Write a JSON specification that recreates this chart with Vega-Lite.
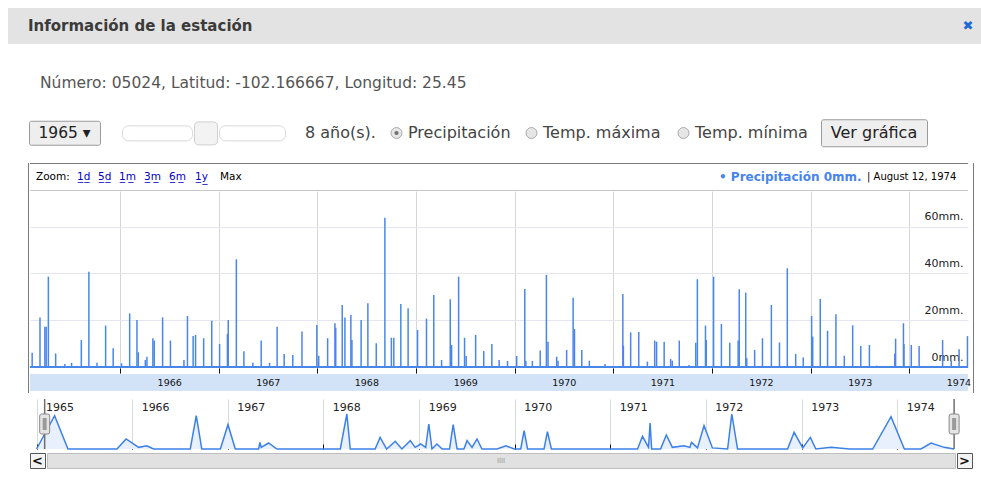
{
 "$schema": "https://vega.github.io/schema/vega-lite/v6.json",
 "background": "white",
 "padding": {"left": 8, "top": 8, "right": 0, "bottom": 0},
 "config": {
   "font": "DejaVu Sans",
   "view": {"stroke": null},
   "concat": {"spacing": 0},
   "axis": {"labelFont": "DejaVu Sans"}
 },
 "datasets": {
  "rain": [
   {"date":"1965/02/09","mm":6.1},{"date":"1965/03/10","mm":21.2},{"date":"1965/03/28","mm":17.2},{"date":"1965/04/02","mm":17.2},{"date":"1965/04/10","mm":38.6},{"date":"1965/05/07","mm":5.8},{"date":"1965/06/10","mm":1.3},{"date":"1965/07/05","mm":1.8},{"date":"1965/08/10","mm":11.5},{"date":"1965/09/07","mm":40.7},{"date":"1965/10/07","mm":1.8},{"date":"1965/11/08","mm":17.7},{"date":"1965/12/06","mm":8.0},
   {"date":"1966/01/06","mm":1.6},{"date":"1966/02/05","mm":22.9},{"date":"1966/03/04","mm":20.1},{"date":"1966/03/09","mm":6.3},{"date":"1966/04/04","mm":3.0},{"date":"1966/04/10","mm":4.4},{"date":"1966/05/02","mm":12.3},{"date":"1966/05/07","mm":11.3},{"date":"1966/06/07","mm":21.2},{"date":"1966/07/06","mm":11.3},{"date":"1966/08/25","mm":3.0},{"date":"1966/09/07","mm":21.8},{"date":"1966/09/28","mm":13.2},{"date":"1966/10/07","mm":13.7},{"date":"1966/11/06","mm":12.3},{"date":"1966/12/06","mm":19.8},
   {"date":"1967/01/04","mm":9.8},{"date":"1967/02/02","mm":14.1},{"date":"1967/02/05","mm":20.1},{"date":"1967/03/07","mm":46.0},{"date":"1967/04/04","mm":6.7},{"date":"1967/05/07","mm":1.8},{"date":"1967/06/07","mm":11.3},{"date":"1967/07/08","mm":1.8},{"date":"1967/08/05","mm":17.2},{"date":"1967/08/31","mm":5.6},{"date":"1967/10/02","mm":5.1},{"date":"1967/11/05","mm":15.2},{"date":"1967/12/30","mm":18.0},
   {"date":"1968/01/06","mm":4.8},{"date":"1968/02/08","mm":12.3},{"date":"1968/03/06","mm":18.7},{"date":"1968/03/09","mm":16.8},{"date":"1968/04/02","mm":26.5},{"date":"1968/04/12","mm":21.1},{"date":"1968/05/04","mm":22.2},{"date":"1968/05/08","mm":11.5},{"date":"1968/06/11","mm":20.1},{"date":"1968/07/06","mm":27.2},{"date":"1968/08/06","mm":10.1},{"date":"1968/09/07","mm":63.8},{"date":"1968/10/01","mm":12.5},{"date":"1968/10/10","mm":12.5},{"date":"1968/11/05","mm":26.9},{"date":"1968/12/02","mm":25.1},
   {"date":"1969/01/06","mm":15.8},{"date":"1969/02/08","mm":20.7},{"date":"1969/03/07","mm":30.8},{"date":"1969/04/05","mm":3.0},{"date":"1969/05/07","mm":28.9},{"date":"1969/05/12","mm":9.4},{"date":"1969/06/07","mm":38.6},{"date":"1969/06/29","mm":12.5},{"date":"1969/07/05","mm":4.7},{"date":"1969/08/09","mm":13.7},{"date":"1969/09/08","mm":6.8},{"date":"1969/10/08","mm":9.8},{"date":"1969/11/04","mm":3.0},{"date":"1969/12/05","mm":2.6},
   {"date":"1970/01/08","mm":4.7},{"date":"1970/02/07","mm":33.3},{"date":"1970/02/11","mm":2.7},{"date":"1970/03/07","mm":2.6},{"date":"1970/04/05","mm":7.0},{"date":"1970/04/28","mm":39.3},{"date":"1970/05/04","mm":10.8},{"date":"1970/06/05","mm":4.4},{"date":"1970/06/10","mm":2.7},{"date":"1970/07/12","mm":7.3},{"date":"1970/08/05","mm":29.6},{"date":"1970/08/10","mm":16.2},{"date":"1970/09/06","mm":7.3},{"date":"1970/10/04","mm":2.7},{"date":"1970/12/01","mm":1.3},
   {"date":"1971/02/05","mm":31.2},{"date":"1971/02/07","mm":9.1},{"date":"1971/03/06","mm":14.8},{"date":"1971/04/05","mm":15.0},{"date":"1971/05/07","mm":2.3},{"date":"1971/06/03","mm":11.3},{"date":"1971/06/10","mm":10.8},{"date":"1971/07/08","mm":10.8},{"date":"1971/08/01","mm":3.4},{"date":"1971/08/07","mm":2.7},{"date":"1971/09/02","mm":11.3},{"date":"1971/10/08","mm":0.9},{"date":"1971/11/02","mm":10.4},{"date":"1971/11/08","mm":37.5},{"date":"1971/12/08","mm":17.7},{"date":"1971/12/11","mm":11.5},
   {"date":"1972/01/07","mm":38.6},{"date":"1972/02/05","mm":18.4},{"date":"1972/03/07","mm":10.4},{"date":"1972/04/07","mm":11.3},{"date":"1972/04/11","mm":33.2},{"date":"1972/05/05","mm":31.8},{"date":"1972/05/09","mm":3.7},{"date":"1972/06/07","mm":7.3},{"date":"1972/07/06","mm":12.3},{"date":"1972/08/08","mm":26.5},{"date":"1972/09/07","mm":10.5},{"date":"1972/10/06","mm":42.2},{"date":"1972/11/06","mm":5.6},{"date":"1972/12/04","mm":4.1},
   {"date":"1973/01/04","mm":21.8},{"date":"1973/01/08","mm":13.0},{"date":"1973/02/05","mm":29.1},{"date":"1973/03/04","mm":15.5},{"date":"1973/04/04","mm":22.5},{"date":"1973/05/05","mm":4.8},{"date":"1973/06/05","mm":17.8},{"date":"1973/07/05","mm":9.0},{"date":"1973/08/06","mm":9.4},{"date":"1973/09/02","mm":0.6},{"date":"1973/11/08","mm":5.8},{"date":"1973/11/11","mm":12.1},{"date":"1973/12/10","mm":18.7},{"date":"1973/12/12","mm":9.8},
   {"date":"1974/01/08","mm":9.4},{"date":"1974/02/06","mm":9.0},{"date":"1974/05/04","mm":11.5},{"date":"1974/06/05","mm":2.7},{"date":"1974/07/04","mm":7.6},{"date":"1974/08/04","mm":13.2}
  ],
  "overview": [
   {"date":"1965/01/01","v":0},{"date":"1965/03/11","v":60.7},{"date":"1965/05/01","v":0},{"date":"1965/11/04","v":0},{"date":"1965/12/09","v":18.2},{"date":"1966/01/26","v":3},{"date":"1966/02/26","v":6},{"date":"1966/03/24","v":0},{"date":"1966/08/11","v":0},{"date":"1966/09/03","v":60.7},{"date":"1966/09/24","v":0},{"date":"1966/12/04","v":0},
   {"date":"1967/01/02","v":44.3},{"date":"1967/01/30","v":0},{"date":"1967/04/29","v":0},{"date":"1967/05/04","v":12.1},{"date":"1967/05/09","v":3},{"date":"1967/06/06","v":10.9},{"date":"1967/07/08","v":0},{"date":"1968/03/06","v":0},{"date":"1968/03/31","v":63.7},{"date":"1968/04/13","v":0},{"date":"1968/07/17","v":0},{"date":"1968/08/05","v":21.2},{"date":"1968/08/30","v":0},{"date":"1968/10/02","v":14},{"date":"1968/10/27","v":0},{"date":"1968/11/28","v":15.2},{"date":"1968/12/17","v":3},
   {"date":"1969/01/07","v":9.1},{"date":"1969/01/26","v":3},{"date":"1969/02/07","v":45.5},{"date":"1969/02/19","v":0},{"date":"1969/03/10","v":9.1},{"date":"1969/03/30","v":0},{"date":"1969/04/27","v":0},{"date":"1969/05/11","v":44.3},{"date":"1969/05/26","v":0},{"date":"1969/06/21","v":0},{"date":"1969/07/03","v":15.2},{"date":"1969/07/22","v":3},{"date":"1969/08/10","v":18.2},{"date":"1969/08/29","v":0},{"date":"1969/10/26","v":0},{"date":"1969/11/28","v":6},{"date":"1969/12/30","v":0},
   {"date":"1970/01/24","v":0},{"date":"1970/02/06","v":33.4},{"date":"1970/02/19","v":0},{"date":"1970/04/23","v":0},{"date":"1970/05/06","v":31.6},{"date":"1970/05/21","v":0},{"date":"1971/04/15","v":0},{"date":"1971/05/04","v":23.1},{"date":"1971/05/27","v":3},{"date":"1971/06/02","v":47.3},{"date":"1971/06/08","v":0},{"date":"1971/07/12","v":0},{"date":"1971/08/03","v":25.5},{"date":"1971/08/26","v":3},{"date":"1971/10/10","v":6},{"date":"1971/11/01","v":3},{"date":"1971/11/07","v":12.1},{"date":"1971/11/30","v":2},{"date":"1971/12/25","v":42.5},
   {"date":"1972/01/26","v":2},{"date":"1972/03/24","v":0},{"date":"1972/04/09","v":63.7},{"date":"1972/05/01","v":0},{"date":"1972/11/08","v":0},{"date":"1972/12/03","v":30.4},{"date":"1973/01/05","v":2},{"date":"1973/02/03","v":21.2},{"date":"1973/02/24","v":0},{"date":"1973/04/23","v":3},{"date":"1973/07/02","v":0},{"date":"1973/09/29","v":0},{"date":"1973/12/08","v":58.9},{"date":"1974/01/28","v":0},{"date":"1974/04/01","v":0},{"date":"1974/05/10","v":10.9},{"date":"1974/06/29","v":3},{"date":"1974/08/06","v":0}
  ]
 },
 "spacing": 0,
 "vconcat": [
  {"hconcat": [
    {"width": 20, "height": 36, "view": {"fill": "#e3e3e3"}, "data": {"values": []}, "mark": "text", "encoding": {"text": {"value": ""}}},
    {"width": 927, "height": 36, "view": {"fill": "#e3e3e3"}, "data": {"values": [{"t": "Información de la estación"}]}, "mark": {"type": "text", "align": "left", "baseline": "middle", "fontSize": 15, "fontWeight": "bold", "color": "#3b3b3b"}, "encoding": {"text": {"field": "t"}, "x": {"datum": 0, "type": "quantitative", "scale": {"domain": [0, 1]}, "axis": null}}},
    {"width": 26, "height": 36, "view": {"fill": "#e3e3e3"}, "data": {"values": [{"t": "✖"}]}, "mark": {"type": "text", "align": "center", "baseline": "middle", "fontSize": 13, "color": "#1b6ad8"}, "encoding": {"text": {"field": "t"}}}
   ], "spacing": 0},
  {"vconcat": [
    {"width": 10, "height": 4, "data": {"values": []}, "mark": "text", "encoding": {"text": {"value": ""}}},
    {"hconcat": [
      {"width": 32, "height": 70, "data": {"values": []}, "mark": "text", "encoding": {"text": {"value": ""}}},
      {"width": 900, "height": 70, "data": {"values": [{"t": "Número: 05024, Latitud: -102.166667, Longitud: 25.45"}]}, "mark": {"type": "text", "align": "left", "baseline": "middle", "fontSize": 15.5, "color": "#555555"}, "encoding": {"text": {"field": "t"}, "x": {"datum": 0, "type": "quantitative", "scale": {"domain": [0, 1]}, "axis": null}}}
     ], "spacing": 0}
   ], "spacing": 0},
  {"hconcat": [
    {"width": 20, "height": 28, "data": {"values": []}, "mark": "text", "encoding": {"text": {"value": ""}}},
    {"width": 71, "height": 24, "view": {"fill": "#eeeeee", "stroke": "#9a9a9a", "cornerRadius": 2}, "data": {"values": [{"t": "1965 ▾"}]}, "mark": {"type": "text", "align": "center", "baseline": "middle", "fontSize": 15.5, "color": "#222222"}, "encoding": {"text": {"field": "t"}}},
    {"width": 20, "height": 28, "data": {"values": []}, "mark": "text", "encoding": {"text": {"value": ""}}},
    {"hconcat": [
      {"width": 70, "height": 15, "view": {"fill": "#ffffff", "stroke": "#d8d8d8", "cornerRadius": 6}, "data": {"values": []}, "mark": "text", "encoding": {"text": {"value": ""}}},
      {"width": 23, "height": 23, "view": {"fill": "#f3f3f3", "stroke": "#cfcfcf", "cornerRadius": 4}, "data": {"values": []}, "mark": "text", "encoding": {"text": {"value": ""}}},
      {"width": 66, "height": 15, "view": {"fill": "#ffffff", "stroke": "#d8d8d8", "cornerRadius": 6}, "data": {"values": []}, "mark": "text", "encoding": {"text": {"value": ""}}}
     ], "spacing": 0, "center": true},
    {"width": 19, "height": 28, "data": {"values": []}, "mark": "text", "encoding": {"text": {"value": ""}}},
    {"width": 84, "height": 28, "data": {"values": [{"t": "8 año(s)."}]}, "mark": {"type": "text", "align": "left", "baseline": "middle", "fontSize": 16, "color": "#444444"}, "encoding": {"text": {"field": "t"}, "x": {"datum": 0, "type": "quantitative", "scale": {"domain": [0, 1]}, "axis": null}}},
    {"width": 15, "height": 28, "data": {"values": [{}]}, "layer": [
      {"mark": {"type": "point", "filled": true, "fill": "#e6e6e6", "stroke": "#ababab", "strokeWidth": 1, "size": 120, "opacity": 1}, "encoding": {}},
      {"mark": {"type": "point", "filled": true, "fill": "#707070", "size": 18, "opacity": 1}, "encoding": {}}
    ]},
    {"width": 4, "height": 28, "data": {"values": []}, "mark": "text", "encoding": {"text": {"value": ""}}},
    {"width": 116, "height": 28, "data": {"values": [{"t": "Precipitación"}]}, "mark": {"type": "text", "align": "left", "baseline": "middle", "fontSize": 16, "color": "#444444"}, "encoding": {"text": {"field": "t"}, "x": {"datum": 0, "type": "quantitative", "scale": {"domain": [0, 1]}, "axis": null}}},
    {"width": 15, "height": 28, "data": {"values": [{}]}, "mark": {"type": "point", "filled": true, "fill": "#e6e6e6", "stroke": "#ababab", "strokeWidth": 1, "size": 120, "opacity": 1}, "encoding": {}},
    {"width": 4, "height": 28, "data": {"values": []}, "mark": "text", "encoding": {"text": {"value": ""}}},
    {"width": 133, "height": 28, "data": {"values": [{"t": "Temp. máxima"}]}, "mark": {"type": "text", "align": "left", "baseline": "middle", "fontSize": 16, "color": "#444444"}, "encoding": {"text": {"field": "t"}, "x": {"datum": 0, "type": "quantitative", "scale": {"domain": [0, 1]}, "axis": null}}},
    {"width": 15, "height": 28, "data": {"values": [{}]}, "mark": {"type": "point", "filled": true, "fill": "#e6e6e6", "stroke": "#ababab", "strokeWidth": 1, "size": 120, "opacity": 1}, "encoding": {}},
    {"width": 4, "height": 28, "data": {"values": []}, "mark": "text", "encoding": {"text": {"value": ""}}},
    {"width": 125, "height": 28, "data": {"values": [{"t": "Temp. mínima"}]}, "mark": {"type": "text", "align": "left", "baseline": "middle", "fontSize": 16, "color": "#444444"}, "encoding": {"text": {"field": "t"}, "x": {"datum": 0, "type": "quantitative", "scale": {"domain": [0, 1]}, "axis": null}}},
    {"width": 106, "height": 27, "view": {"fill": "#efefef", "stroke": "#9a9a9a", "cornerRadius": 2}, "data": {"values": [{"t": "Ver gráfica"}]}, "mark": {"type": "text", "align": "center", "baseline": "middle", "fontSize": 16, "color": "#222222"}, "encoding": {"text": {"field": "t"}}}
   ], "spacing": 0, "center": true},
  {"width": 10, "height": 16, "data": {"values": []}, "mark": "text", "encoding": {"text": {"value": ""}}},
  {"hconcat": [
    {"width": 20, "height": 230, "data": {"values": []}, "mark": "text", "encoding": {"text": {"value": ""}}},
    {"width": 1, "height": 230, "view": {"fill": "#7a7a7a"}, "data": {"values": []}, "mark": "text", "encoding": {"text": {"value": ""}}},
    {"vconcat": [
      {"width": 938, "height": 1, "view": {"fill": "#7a7a7a"}, "data": {"values": []}, "mark": "text", "encoding": {"text": {"value": ""}}},
      {"hconcat": [
        {"width": 6, "height": 26, "data": {"values": []}, "mark": "text", "encoding": {"text": {"value": ""}}},
        {"width": 41, "height": 26, "data": {"values": [{"t": "Zoom:"}]}, "mark": {"type": "text", "align": "left", "baseline": "middle", "fontSize": 10.5, "color": "#000000"}, "encoding": {"text": {"field": "t"}, "x": {"datum": 0, "type": "quantitative", "scale": {"domain": [0, 1]}, "axis": null}}},
        {"width": 21, "height": 26, "data": {"values": [{"t": "1\u0332d\u0332"}]}, "mark": {"type": "text", "align": "left", "baseline": "middle", "fontSize": 10.5, "color": "#0000cc"}, "encoding": {"text": {"field": "t"}, "x": {"datum": 0, "type": "quantitative", "scale": {"domain": [0, 1]}, "axis": null}}},
        {"width": 21, "height": 26, "data": {"values": [{"t": "5\u0332d\u0332"}]}, "mark": {"type": "text", "align": "left", "baseline": "middle", "fontSize": 10.5, "color": "#0000cc"}, "encoding": {"text": {"field": "t"}, "x": {"datum": 0, "type": "quantitative", "scale": {"domain": [0, 1]}, "axis": null}}},
        {"width": 25, "height": 26, "data": {"values": [{"t": "1\u0332m\u0332"}]}, "mark": {"type": "text", "align": "left", "baseline": "middle", "fontSize": 10.5, "color": "#0000cc"}, "encoding": {"text": {"field": "t"}, "x": {"datum": 0, "type": "quantitative", "scale": {"domain": [0, 1]}, "axis": null}}},
        {"width": 25, "height": 26, "data": {"values": [{"t": "3\u0332m\u0332"}]}, "mark": {"type": "text", "align": "left", "baseline": "middle", "fontSize": 10.5, "color": "#0000cc"}, "encoding": {"text": {"field": "t"}, "x": {"datum": 0, "type": "quantitative", "scale": {"domain": [0, 1]}, "axis": null}}},
        {"width": 26, "height": 26, "data": {"values": [{"t": "6\u0332m\u0332"}]}, "mark": {"type": "text", "align": "left", "baseline": "middle", "fontSize": 10.5, "color": "#0000cc"}, "encoding": {"text": {"field": "t"}, "x": {"datum": 0, "type": "quantitative", "scale": {"domain": [0, 1]}, "axis": null}}},
        {"width": 25, "height": 26, "data": {"values": [{"t": "1\u0332y\u0332"}]}, "mark": {"type": "text", "align": "left", "baseline": "middle", "fontSize": 10.5, "color": "#0000cc"}, "encoding": {"text": {"field": "t"}, "x": {"datum": 0, "type": "quantitative", "scale": {"domain": [0, 1]}, "axis": null}}},
        {"width": 31, "height": 26, "data": {"values": [{"t": "Max"}]}, "mark": {"type": "text", "align": "left", "baseline": "middle", "fontSize": 10.5, "color": "#000000"}, "encoding": {"text": {"field": "t"}, "x": {"datum": 0, "type": "quantitative", "scale": {"domain": [0, 1]}, "axis": null}}},
        {"width": 468, "height": 26, "data": {"values": []}, "mark": "text", "encoding": {"text": {"value": ""}}},
        {"width": 148, "height": 26, "data": {"values": [{"t": "• Precipitación 0mm."}]}, "mark": {"type": "text", "align": "left", "baseline": "middle", "fontSize": 12, "fontWeight": "bold", "color": "#4684ee"}, "encoding": {"text": {"field": "t"}, "x": {"datum": 0, "type": "quantitative", "scale": {"domain": [0, 1]}, "axis": null}}},
        {"width": 91, "height": 26, "data": {"values": [{"t": "| August 12, 1974"}]}, "mark": {"type": "text", "align": "left", "baseline": "middle", "fontSize": 10, "color": "#000000"}, "encoding": {"text": {"field": "t"}, "x": {"datum": 0, "type": "quantitative", "scale": {"domain": [0, 1]}, "axis": null}}},
        {"width": 10, "height": 26, "data": {"values": []}, "mark": "text", "encoding": {"text": {"value": ""}}}
       ], "spacing": 0},
      {"width": 938, "height": 1, "view": {"fill": "#c8c8c8"}, "data": {"values": []}, "mark": "text", "encoding": {"text": {"value": ""}}},
      {"width": 938, "height": 182, "data": {"name": "rain"},
       "layer": [
        {"mark": {"type": "rule", "color": "#4a86ea", "strokeWidth": 1.5},
         "encoding": {
           "x": {"field": "date", "type": "temporal",
                 "scale": {"domain": [{"year": 1965, "month": 2, "date": 1}, {"year": 1974, "month": 8, "date": 6}]},
                 "axis": {"orient": "bottom", "title": null, "values": [{"year":1966,"month":1,"date":1},{"year":1967,"month":1,"date":1},{"year":1968,"month":1,"date":1},{"year":1969,"month":1,"date":1},{"year":1970,"month":1,"date":1},{"year":1971,"month":1,"date":1},{"year":1972,"month":1,"date":1},{"year":1973,"month":1,"date":1},{"year":1974,"month":1,"date":1}],
                          "grid": true, "gridColor": "#d3d8d3", "labels": false, "ticks": true, "tickSize": -5, "tickColor": "#111111", "domain": false}},
           "y": {"field": "mm", "type": "quantitative",
                 "scale": {"domain": [-2.56, 75.2], "zero": false, "nice": false},
                 "axis": {"orient": "right", "title": null, "values": [0, 20, 40, 60], "grid": true, "gridColor": "#e6e6f2", "domain": false, "ticks": false, "tickSize": 0,
                          "labelAlign": "right", "labelPadding": -5, "labelBaseline": "middle", "labelOffset": -10, "labelExpr": "datum.value + 'mm.'", "labelFontSize": 11, "labelColor": "#222222"}},
           "y2": {"datum": 0}
         }},
        {"mark": {"type": "rule", "color": "#4a86ea", "strokeWidth": 1.5}, "encoding": {"y": {"datum": 0, "type": "quantitative"}}}
       ]},
      {"width": 938, "height": 17, "view": {"fill": "#d3e3f7"}, "data": {"values": [{}]}, "mark": "text",
       "encoding": {"text": {"value": ""},
         "x": {"datum": {"year": 1970, "month": 1, "date": 1}, "type": "temporal",
               "scale": {"domain": [{"year": 1965, "month": 2, "date": 1}, {"year": 1974, "month": 8, "date": 6}]},
               "axis": {"orient": "top", "title": null, "format": "%Y",
                        "values": [{"year":1965,"month":1,"date":1},{"year":1966,"month":1,"date":1},{"year":1967,"month":1,"date":1},{"year":1968,"month":1,"date":1},{"year":1969,"month":1,"date":1},{"year":1970,"month":1,"date":1},{"year":1971,"month":1,"date":1},{"year":1972,"month":1,"date":1},{"year":1973,"month":1,"date":1},{"year":1974,"month":1,"date":1}],
                        "domain": false, "grid": false, "ticks": false, "tickSize": 0,
                        "labelOffset": 49, "labelAlign": "center", "labelBaseline": "middle", "labelPadding": -8, "labelFontSize": 9.5, "labelColor": "#111111",
                        "labelFlush": false, "labelOverlap": false, "labelBound": false}}}},
      {"width": 938, "height": 7, "data": {"values": []}, "mark": "text", "encoding": {"text": {"value": ""}}},
      {"width": 938, "height": 50, "data": {"name": "overview"},
       "layer": [
        {"mark": {"type": "area", "color": "#e7f0fc", "opacity": 1},
         "encoding": {
           "x": {"field": "date", "type": "temporal",
                 "scale": {"domain": [{"year": 1964, "month": 12, "date": 7}, {"year": 1974, "month": 9, "date": 28}]},
                 "axis": {"orient": "top", "title": null, "format": "%Y",
                          "values": [{"year":1965,"month":1,"date":1},{"year":1966,"month":1,"date":1},{"year":1967,"month":1,"date":1},{"year":1968,"month":1,"date":1},{"year":1969,"month":1,"date":1},{"year":1970,"month":1,"date":1},{"year":1971,"month":1,"date":1},{"year":1972,"month":1,"date":1},{"year":1973,"month":1,"date":1},{"year":1974,"month":1,"date":1}],
                          "domain": false, "ticks": false, "tickSize": 0, "grid": true, "gridColor": "#d6dbd6",
                          "labelAlign": "left", "labelBaseline": "middle", "labelPadding": -8, "labelOffset": 9, "labelFontSize": 11, "labelColor": "#222222",
                          "labelFlush": false, "labelOverlap": false, "labelBound": false}},
           "y": {"field": "v", "type": "quantitative", "scale": {"domain": [0, 91], "nice": false}, "axis": null}}},
        {"mark": {"type": "line", "color": "#3c80e8", "strokeWidth": 1.5},
         "encoding": {
           "x": {"field": "date", "type": "temporal",
                 "axis": {"orient": "bottom", "title": null,
                          "values": [{"year":1965,"month":1,"date":1},{"year":1966,"month":1,"date":1},{"year":1967,"month":1,"date":1},{"year":1968,"month":1,"date":1},{"year":1969,"month":1,"date":1},{"year":1970,"month":1,"date":1},{"year":1971,"month":1,"date":1},{"year":1972,"month":1,"date":1},{"year":1973,"month":1,"date":1},{"year":1974,"month":1,"date":1}],
                          "domain": false, "grid": false, "labels": false, "ticks": true, "tickSize": -5, "tickColor": "#111111"}},
           "y": {"field": "v", "type": "quantitative"}}},
        {"data": {"values": [{}]}, "mark": {"type": "rule", "color": "#6e6e6e", "strokeWidth": 1.5}, "encoding": {"x": {"datum": {"year": 1965, "month": 2, "date": 1}, "type": "temporal", "axis": null}}},
        {"data": {"values": [{}]}, "mark": {"type": "rule", "color": "#6e6e6e", "strokeWidth": 1.5}, "encoding": {"x": {"datum": {"year": 1974, "month": 8, "date": 6}, "type": "temporal", "axis": null}}},
        {"data": {"values": [{}]}, "mark": {"type": "point", "shape": "M-0.5,-0.8Q-0.5,-1,-0.3,-1H0.3Q0.5,-1,0.5,-0.8V0.8Q0.5,1,0.3,1H-0.3Q-0.5,1,-0.5,0.8Z", "size": 400, "filled": true, "fill": "#e4e4e4", "stroke": "#8a8a8a", "strokeWidth": 1, "opacity": 1}, "encoding": {"x": {"datum": {"year": 1965, "month": 2, "date": 1}, "type": "temporal", "axis": null}}},
        {"data": {"values": [{}]}, "mark": {"type": "point", "shape": "M-0.5,-0.8Q-0.5,-1,-0.3,-1H0.3Q0.5,-1,0.5,-0.8V0.8Q0.5,1,0.3,1H-0.3Q-0.5,1,-0.5,0.8Z", "size": 400, "filled": true, "fill": "#e4e4e4", "stroke": "#8a8a8a", "strokeWidth": 1, "opacity": 1}, "encoding": {"x": {"datum": {"year": 1974, "month": 8, "date": 6}, "type": "temporal", "axis": null}}},
        {"data": {"values": [{}]}, "mark": {"type": "point", "shape": "M-0.2,-0.6H0.2V0.6H-0.2Z", "size": 400, "filled": true, "fill": "#9a9a9a", "strokeWidth": 0, "opacity": 1}, "encoding": {"x": {"datum": {"year": 1965, "month": 2, "date": 1}, "type": "temporal", "axis": null}}},
        {"data": {"values": [{}]}, "mark": {"type": "point", "shape": "M-0.2,-0.6H0.2V0.6H-0.2Z", "size": 400, "filled": true, "fill": "#9a9a9a", "strokeWidth": 0, "opacity": 1}, "encoding": {"x": {"datum": {"year": 1974, "month": 8, "date": 6}, "type": "temporal", "axis": null}}}
       ],
       "resolve": {"axis": {"x": "independent"}}},
      {"hconcat": [
        {"width": 15, "height": 15, "view": {"fill": "#f3f3f3", "stroke": "#555555"}, "data": {"values": [{"t": "<"}]}, "mark": {"type": "text", "fontSize": 13, "fontWeight": "bold", "color": "#111111"}, "encoding": {"text": {"field": "t"}}},
        {"width": 908, "height": 15, "view": {"fill": "#e1e1e1", "stroke": "#bdbdbd"}, "data": {"values": [{"t": "IIII"}]}, "mark": {"type": "text", "fontSize": 7, "color": "#999999"}, "encoding": {"text": {"field": "t"}}},
        {"width": 15, "height": 15, "view": {"fill": "#f3f3f3", "stroke": "#555555"}, "data": {"values": [{"t": ">"}]}, "mark": {"type": "text", "fontSize": 13, "fontWeight": "bold", "color": "#111111"}, "encoding": {"text": {"field": "t"}}}
       ], "spacing": 0}
     ], "spacing": 0},
    {"width": 1, "height": 230, "view": {"fill": "#7a7a7a"}, "data": {"values": []}, "mark": "text", "encoding": {"text": {"value": ""}}}
   ], "spacing": 0}
 ]
}
